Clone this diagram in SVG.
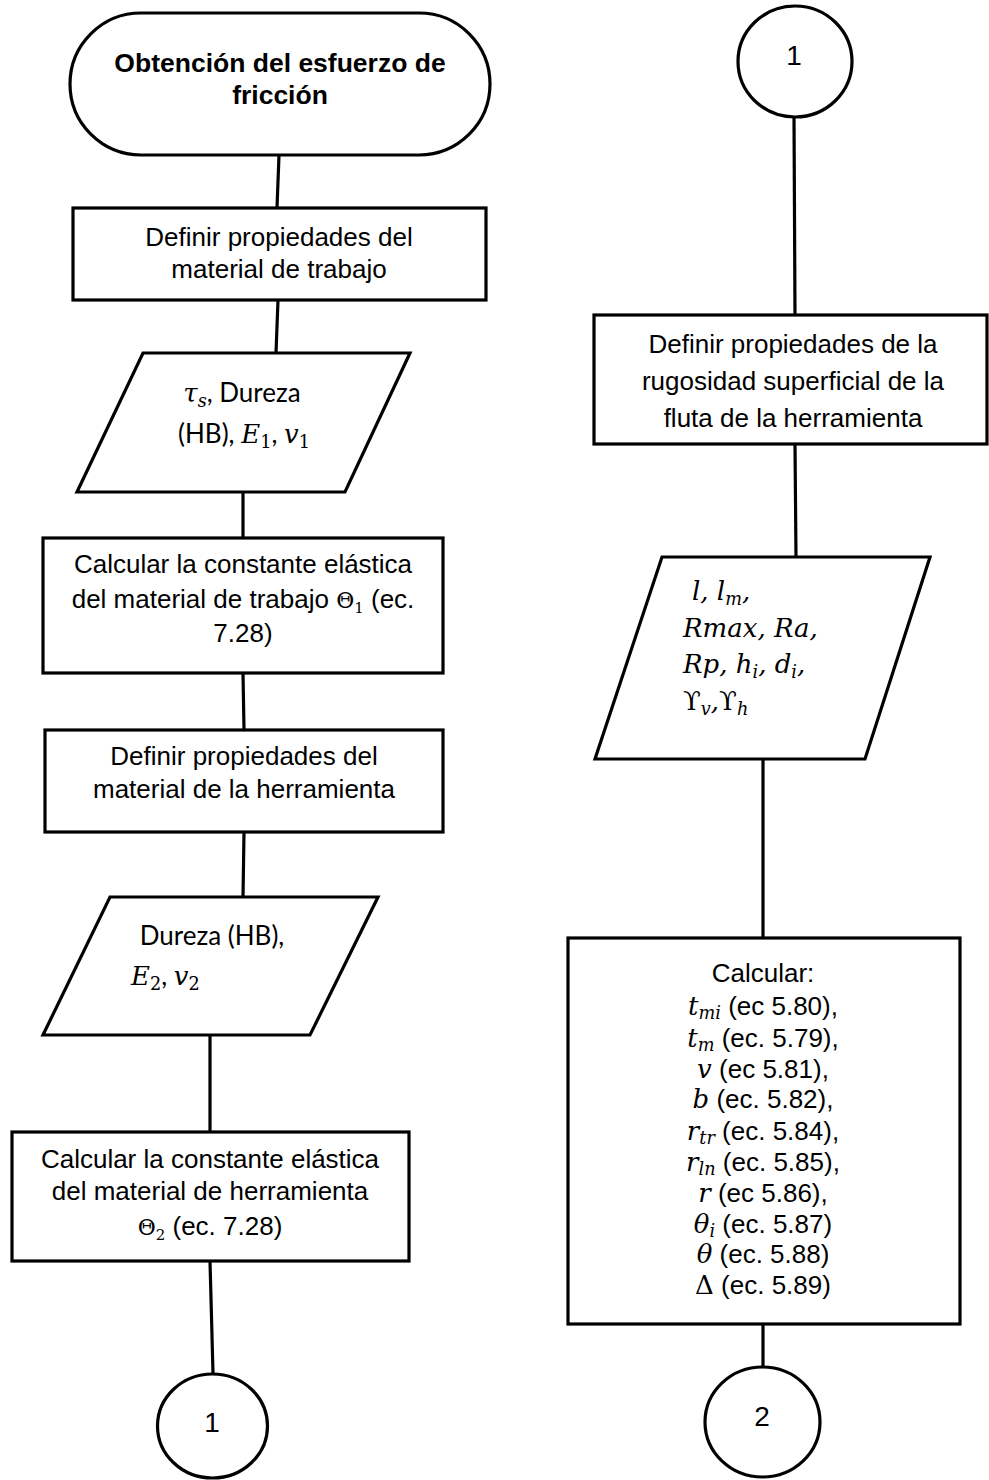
<svg xmlns="http://www.w3.org/2000/svg" width="989" height="1480" viewBox="0 0 989 1480">
  <style>
    .shape { fill: #ffffff; stroke: #000000; stroke-width: 3.2; }
    .wire { fill: none; stroke: #000000; stroke-width: 3.2; }
    .lbl { font-family: "Liberation Sans", Arial, sans-serif; font-size: 26px; fill: #000000; text-anchor: middle; }
    .bold { font-weight: bold; font-size: 26.5px; }
    .num { font-size: 28px; }
    .io { font-family: Lato, "Liberation Sans", sans-serif; font-size: 26px; fill: #000000; }
    .m { font-family: "DejaVu Serif", "Liberation Serif", serif; font-style: italic; }
    .mu { font-family: "DejaVu Serif", "Liberation Serif", serif; font-style: normal; }
    .sub { font-size: 68%; }
  </style>

  <rect width="989" height="1480" fill="#ffffff"/>

  <!-- connectors -->
  <g id="connectors">
    <line class="wire" x1="279" y1="155" x2="277" y2="208"/>
    <line class="wire" x1="278" y1="300" x2="276" y2="353"/>
    <line class="wire" x1="243" y1="492" x2="243" y2="538"/>
    <line class="wire" x1="243" y1="673" x2="244" y2="730"/>
    <line class="wire" x1="244" y1="832" x2="243" y2="897"/>
    <line class="wire" x1="210" y1="1035" x2="210" y2="1132"/>
    <line class="wire" x1="210" y1="1261" x2="213" y2="1373"/>
    <line class="wire" x1="794" y1="117" x2="795" y2="315"/>
    <line class="wire" x1="795" y1="444" x2="796" y2="557"/>
    <line class="wire" x1="763" y1="759" x2="763" y2="938"/>
    <line class="wire" x1="763" y1="1324" x2="763" y2="1367"/>
  </g>

  <!-- left column -->
  <g id="start">
    <rect class="shape" x="70" y="13" width="420" height="142" rx="71" ry="71"/>
    <text class="lbl bold" x="280" y="72">Obtención del esfuerzo de</text>
    <text class="lbl bold" x="280" y="104">fricción</text>
  </g>

  <g id="work-material">
    <rect class="shape" x="73" y="208" width="413" height="92"/>
    <text class="lbl" x="279" y="246">Definir propiedades del</text>
    <text class="lbl" x="279" y="278">material de trabajo</text>
  </g>

  <g id="work-input">
    <polygon class="shape" points="143,353 410,353 345,492 77,492"/>
    <text class="io" x="242" y="402" text-anchor="middle"><tspan class="m">τ<tspan class="sub" dy="5">s</tspan></tspan><tspan dy="-5">, Dureza</tspan></text>
    <text class="io" x="244" y="443" text-anchor="middle">(HB), <tspan class="m">E</tspan><tspan class="mu sub" dy="5">1</tspan><tspan dy="-5">, </tspan><tspan class="m">v</tspan><tspan class="mu sub" dy="5">1</tspan></text>
  </g>

  <g id="work-constant">
    <rect class="shape" x="43" y="538" width="400" height="135"/>
    <text class="lbl" x="243" y="573">Calcular la constante elástica</text>
    <text class="lbl" x="243" y="608">del material de trabajo <tspan class="mu" font-size="22">Θ</tspan><tspan class="mu" font-size="15" dy="5">1</tspan><tspan dy="-5"> (ec.</tspan></text>
    <text class="lbl" x="243" y="642">7.28)</text>
  </g>

  <g id="tool-material">
    <rect class="shape" x="45" y="730" width="398" height="102"/>
    <text class="lbl" x="244" y="765">Definir propiedades del</text>
    <text class="lbl" x="244" y="798">material de la herramienta</text>
  </g>

  <g id="tool-input">
    <polygon class="shape" points="110,897 378,897 310,1035 43,1035"/>
    <text class="io" x="212" y="945" text-anchor="middle">Dureza (HB),</text>
    <text class="io" x="131" y="985"><tspan class="m">E</tspan><tspan class="mu sub" dy="5">2</tspan><tspan dy="-5">, </tspan><tspan class="m">v</tspan><tspan class="mu sub" dy="5">2</tspan></text>
  </g>

  <g id="tool-constant">
    <rect class="shape" x="12" y="1132" width="397" height="129"/>
    <text class="lbl" x="210" y="1168">Calcular la constante elástica</text>
    <text class="lbl" x="210" y="1200">del material de herramienta</text>
    <text class="lbl" x="210" y="1235"><tspan class="mu" font-size="22">Θ</tspan><tspan class="mu" font-size="15" dy="5">2</tspan><tspan dy="-5"> (ec. 7.28)</tspan></text>
  </g>

  <g id="link-out-1">
    <ellipse class="shape" cx="212.5" cy="1426" rx="55" ry="52"/>
    <text class="lbl num" x="212" y="1432">1</text>
  </g>

  <!-- right column -->
  <g id="link-in-1">
    <ellipse class="shape" cx="795" cy="61.5" rx="57" ry="55.5"/>
    <text class="lbl num" x="794" y="65">1</text>
  </g>

  <g id="roughness">
    <rect class="shape" x="594" y="315" width="393" height="129"/>
    <text class="lbl" x="793" y="353">Definir propiedades de la</text>
    <text class="lbl" x="793" y="390">rugosidad superficial de la</text>
    <text class="lbl" x="793" y="427">fluta de la herramienta</text>
  </g>

  <g id="roughness-input">
    <polygon class="shape" points="662,557 930,557 865,759 595,759"/>
    <text class="io m" x="692" y="600">l, l<tspan class="sub" dy="5">m</tspan><tspan dy="-5">,</tspan></text>
    <text class="io m" x="683" y="637">Rmax, Ra,</text>
    <text class="io m" x="683" y="673">Rp, h<tspan class="sub" dy="5">i</tspan><tspan dy="-5">, d</tspan><tspan class="sub" dy="5">i</tspan><tspan dy="-5">,</tspan></text>
    <text class="io m" x="683" y="710"><tspan class="mu">ϒ</tspan><tspan class="sub" dy="5">v</tspan><tspan dy="-5">,</tspan><tspan class="mu">ϒ</tspan><tspan class="sub" dy="5">h</tspan></text>
  </g>

  <g id="compute">
    <rect class="shape" x="568" y="938" width="392" height="386"/>
    <text class="lbl" x="763" y="982">Calcular:</text>
    <text class="lbl" x="763" y="1015"><tspan class="m">t</tspan><tspan class="m sub" dy="4">mi</tspan><tspan dy="-4"> (ec 5.80),</tspan></text>
    <text class="lbl" x="763" y="1047"><tspan class="m">t</tspan><tspan class="m sub" dy="4">m</tspan><tspan dy="-4"> (ec. 5.79),</tspan></text>
    <text class="lbl" x="763" y="1078"><tspan class="m">v</tspan> (ec 5.81),</text>
    <text class="lbl" x="763" y="1108"><tspan class="m">b</tspan> (ec. 5.82),</text>
    <text class="lbl" x="763" y="1140"><tspan class="m">r</tspan><tspan class="m sub" dy="4">tr</tspan><tspan dy="-4"> (ec. 5.84),</tspan></text>
    <text class="lbl" x="763" y="1171"><tspan class="m">r</tspan><tspan class="m sub" dy="4">ln</tspan><tspan dy="-4"> (ec. 5.85),</tspan></text>
    <text class="lbl" x="763" y="1202"><tspan class="m">r</tspan> (ec 5.86),</text>
    <text class="lbl" x="763" y="1233"><tspan class="m">θ</tspan><tspan class="m sub" dy="4">i</tspan><tspan dy="-4"> (ec. 5.87)</tspan></text>
    <text class="lbl" x="763" y="1263"><tspan class="m">θ</tspan> (ec. 5.88)</text>
    <text class="lbl" x="763" y="1294"><tspan class="mu">Δ</tspan> (ec. 5.89)</text>
  </g>

  <g id="link-out-2">
    <ellipse class="shape" cx="762.5" cy="1422" rx="57.5" ry="55"/>
    <text class="lbl num" x="762" y="1426">2</text>
  </g>
</svg>
